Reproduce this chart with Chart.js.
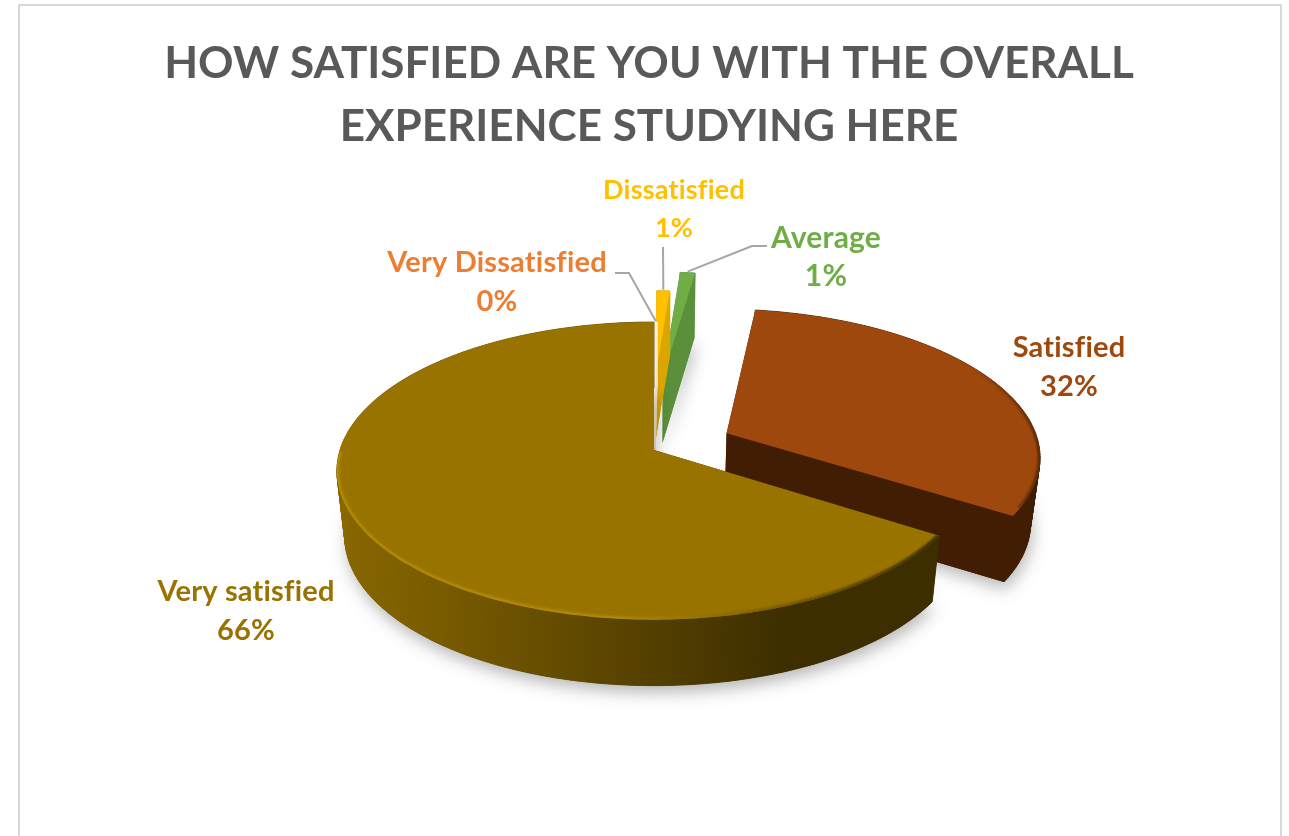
<!DOCTYPE html>
<html><head><meta charset="utf-8">
<script src="https://cdn.jsdelivr.net/npm/chart.js@4"></script>
<style>
html,body{margin:0;padding:0;background:#fff;overflow:hidden}
#frame{position:absolute;left:18px;top:4px;width:1260px;height:900px;border:2.5px solid #d9d9d9}
canvas{position:absolute;left:0;top:0;filter:blur(0.6px)}
</style></head><body>
<div id="frame"></div>
<canvas id="c" width="1289" height="836"></canvas>
<script>
const categories = ["Very Dissatisfied","Dissatisfied","Average","Satisfied","Very satisfied"];
const seriesValues = [0.2,1,1,32,66];
const percentLabels = ["0%","1%","1%","32%","66%"];
const titleLines = ["HOW SATISFIED ARE YOU WITH THE OVERALL","EXPERIENCE STUDYING HERE"];

const topColors = ["#fbeedd","#ffc000","#70ad47","#9e480e","#997300"];
const wallColors = ["#f3e3cc","#dba600","#5b8f3a","#411d03","#3d2e00"];
const labelColors = ["#ed7d31","#ffc000","#70ad47","#9e480e","#997300"];
const labelSizes = [29,27,30,29,29];

// 3-D look: perspective projection of the pie's unit disc
const view = {cx:654, cy:450, rx:314, ry:145.9, k:0.14, drop:66, shrink:0.975};
const explodeU = [0,0,0.03,0.235,0];
const explodeV = [0,-0.489,-0.54,-0.1175,0];
const radiusScale = [1,0.8,0.93,1,1];
const paintOrder = [2,1,0,3,4];
const labelCenters = [[497,263,302],[674,190,228],[826,238,276],[1069,348,387],[246,592,631]];
const leaderElbows = [[[615,273],[629,273]],[[663,247]],[[767,246],[752,246]]];

function proj(u,v,drop){
  const s = 1/(1-view.k*v), d = drop?view.shrink:1;
  return [view.cx+view.rx*u*s*d, view.cy+view.ry*v*s+(drop?view.drop:0)];
}
function slicePts(arc,i){
  const pts=[], n=Math.max(2,Math.ceil((arc.endAngle-arc.startAngle)/0.0174));
  for(let j=0;j<=n;j++){
    const a=arc.startAngle+(arc.endAngle-arc.startAngle)*j/n;
    pts.push([explodeU[i]+radiusScale[i]*Math.cos(a), explodeV[i]+radiusScale[i]*Math.sin(a)]);
  }
  return pts;
}
function poly(ctx,pts){ctx.beginPath();pts.forEach((p,i)=>i?ctx.lineTo(p[0],p[1]):ctx.moveTo(p[0],p[1]));ctx.closePath();}

const pie3d = {
  id:'pie3d',
  beforeDatasetsDraw(chart){
    const ctx=chart.ctx, arcs=chart.getDatasetMeta(0).data;
    ctx.save();
    for(const i of paintOrder){
      const rim=slicePts(arcs[i],i), apex=[explodeU[i],explodeV[i]];
      const topP=[apex,...rim].map(p=>proj(p[0],p[1],false));
      const botP=[apex,...rim].map(p=>proj(p[0],p[1],true));
      // soft ground shadow
      ctx.save();
      if(i>=2){ctx.shadowColor='rgba(0,0,0,0.28)';ctx.shadowBlur=16;ctx.shadowOffsetY=7;ctx.shadowOffsetX=2;}
      ctx.fillStyle=wallColors[i];poly(ctx,botP);ctx.fill();ctx.restore();
      // radial walls
      ctx.fillStyle=wallColors[i];
      poly(ctx,[topP[0],topP[1],botP[1],botP[0]]);ctx.fill();
      const l=topP.length-1;
      poly(ctx,[topP[0],topP[l],botP[l],botP[0]]);ctx.fill();
      // outer wall with horizontal shading
      const g=ctx.createLinearGradient(336,0,1040,0);
      if(i===4){g.addColorStop(0,'#8a6800');g.addColorStop(0.14,'#7a5c00');g.addColorStop(0.42,'#574200');g.addColorStop(0.64,'#3d2e00');g.addColorStop(1,'#3d2e00');}
      else{g.addColorStop(0,wallColors[i]);g.addColorStop(1,wallColors[i]);}
      ctx.fillStyle=g;
      for(let j=1;j<l;j++){
        poly(ctx,[topP[j],topP[j+1],botP[j+1],botP[j]]);ctx.fill();ctx.strokeStyle=g;ctx.lineWidth=0.8;ctx.stroke();
      }
      // top face
      ctx.fillStyle=arcs[i].options.backgroundColor;
      poly(ctx,topP);ctx.fill();
      // bevel on the rim of the two large slices
      if(i>=3){
        ctx.save();poly(ctx,topP);ctx.clip();
        const b=ctx.createLinearGradient(336,0,1040,0);
        if(i===4){b.addColorStop(0,'#b58c05');b.addColorStop(0.4,'#b08a08');b.addColorStop(0.56,'#8a6a00');b.addColorStop(0.85,'#3a2c00');}
        else{b.addColorStop(0,'#9e480e');b.addColorStop(0.9,'#9e480e');b.addColorStop(1,'#5a2a08');}
        ctx.strokeStyle=b;ctx.lineWidth=5;ctx.filter='blur(1.2px)';
        ctx.beginPath();
        let started=false;
        rim.forEach((p)=>{
          if(i===4 ? p[1]>0.0 : p[0]>1.1){
            const q=proj(p[0],p[1],false);
            started?ctx.lineTo(q[0],q[1]):ctx.moveTo(q[0],q[1]);started=true;
          }
        });
        ctx.stroke();ctx.restore();
      }
    }
    // leader lines
    ctx.strokeStyle='#a6a6a6';ctx.lineWidth=2;ctx.lineJoin='round';
    [0,1,2].forEach(i=>{
      const a=(arcs[i].startAngle+arcs[i].endAngle)/2;
      const end=proj(explodeU[i]+radiusScale[i]*Math.cos(a),explodeV[i]+radiusScale[i]*Math.sin(a),false);
      ctx.beginPath();
      leaderElbows[i].forEach((p,j)=>j?ctx.lineTo(p[0],p[1]):ctx.moveTo(p[0],p[1]));
      ctx.lineTo(end[0],end[1]-1);ctx.stroke();
    });
    // data labels
    ctx.letterSpacing='0.2px';ctx.textAlign='center';ctx.textBaseline='middle';
    categories.forEach((c,i)=>{
      ctx.font='bold '+labelSizes[i]+'px Lato';
      ctx.fillStyle=labelColors[i];
      ctx.fillText(c,labelCenters[i][0],labelCenters[i][1]);
      ctx.fillText(percentLabels[i],labelCenters[i][0],labelCenters[i][2]);
    });
    ctx.restore();
    return false;
  }
};

new Chart(document.getElementById('c'),{
  type:'pie',
  data:{labels:categories,datasets:[{data:seriesValues,backgroundColor:topColors,borderWidth:0}]},
  plugins:[pie3d],
  options:{
    responsive:false,animation:false,
    layout:{padding:{left:9}},
    plugins:{
      legend:{display:false},tooltip:{enabled:false},
      title:{display:true,text:titleLines,color:'#595959',
        font:{family:'Lato',weight:'bold',size:44,lineHeight:1.432},
        padding:{top:32,bottom:0}}
    }
  }
});
</script>
</body></html>
